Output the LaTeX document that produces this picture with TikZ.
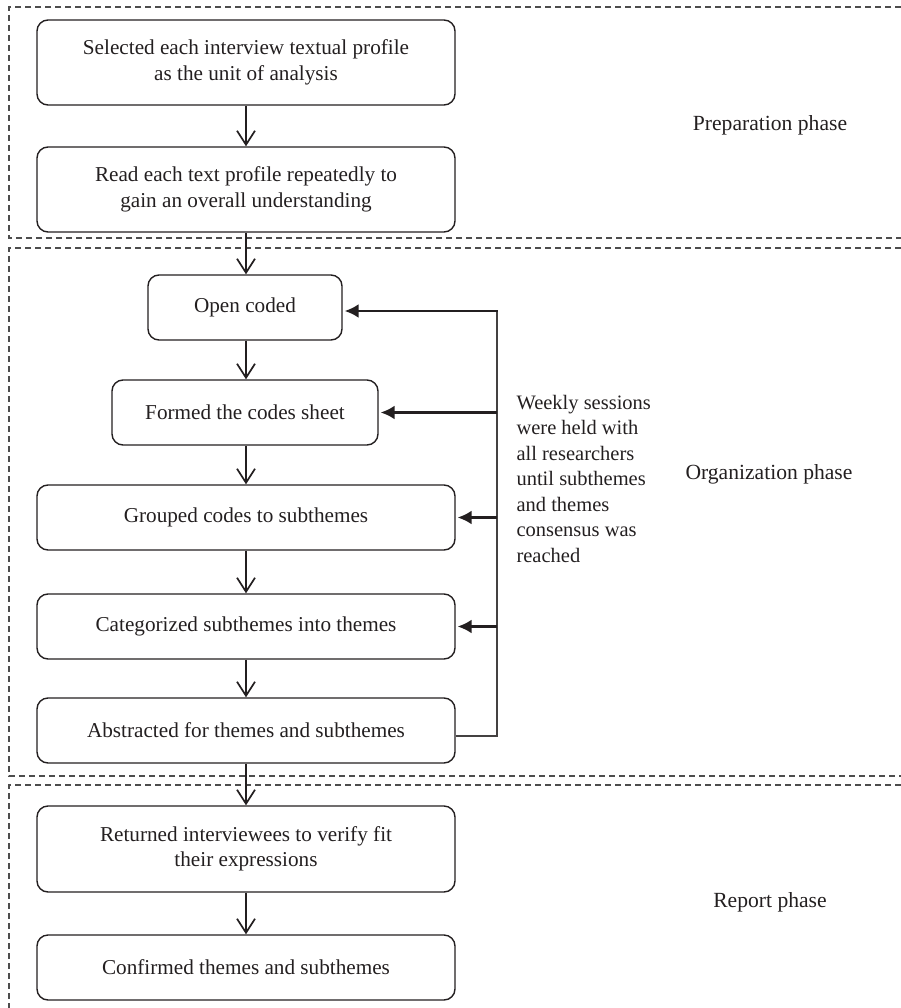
\documentclass[tikz,border=0pt]{standalone}
\usepackage{fontspec}
\setmainfont{Liberation Serif}
\usetikzlibrary{arrows.meta}
\definecolor{ink}{HTML}{231F20}
\definecolor{dashgray}{HTML}{4D4D4D}
\begin{document}
\begin{tikzpicture}[x=1pt,y=-1pt,
  every node/.style={text=ink,font=\fontsize{21.2}{25.5}\selectfont},
  stepbox/.style={draw=ink,line width=1.4pt,rounded corners=11pt,align=center,inner sep=0pt},
  wide/.style={stepbox,minimum width=418pt},
  phase/.style={font=\fontsize{21.6}{26}\selectfont},
  notetext/.style={font=\fontsize{20.5}{25.5}\selectfont,anchor=west,align=left},
  frameline/.style={draw=dashgray,line width=1.1pt,dash pattern=on 6pt off 4pt},
  flow/.style={draw=ink,line width=1.7pt,-{Straight Barb[length=14pt,width=18pt,line width=1.7pt]}},
  fbline/.style={draw=ink!85,line width=1.2pt},
  fbarrow/.style={draw=ink,line width=2.2pt,shorten >=2pt,-{Latex[length=14pt,width=14pt]}}
]
\useasboundingbox (0,0) rectangle (901,1008);
% phase frames
\draw[frameline] (901,7) -- (9,7) -- (9,238) -- (901,238);
\draw[frameline] (901,248) -- (9,248) -- (9,776) -- (901,776);
\draw[frameline] (901,785) -- (9,785) -- (9,1008);
% steps
\node[wide,minimum height=85pt] (b1) at (246,62.5) {Selected each interview textual profile\\as the unit of analysis};
\node[wide,minimum height=85pt] (b2) at (246,189.5) {Read each text profile repeatedly to\\gain an overall understanding};
\node[stepbox,minimum width=194pt,minimum height=65pt] (b3) at (245,307.5) {Open coded};
\node[stepbox,minimum width=266pt,minimum height=65pt] (b4) at (245,412.5) {Formed the codes sheet};
\node[wide,minimum height=65pt] (b5) at (246,517.5) {Grouped codes to subthemes};
\node[wide,minimum height=65pt] (b6) at (246,626.5) {Categorized subthemes into themes};
\node[wide,minimum height=65pt] (b7) at (246,730.5) {Abstracted for themes and subthemes};
\node[wide,minimum height=86pt] (b8) at (246,849) {Returned interviewees to verify fit\\their expressions};
\node[wide,minimum height=65pt] (b9) at (246,967.5) {Confirmed themes and subthemes};
% phase labels
\node[phase] (p1) at (770,125) {Preparation phase};
\node[phase] (p2) at (769,474) {Organization phase};
\node[phase] (p3) at (770,902) {Report phase};
% note
\node[notetext] (note) at (513,478.5) {Weekly sessions\\were held with\\all researchers\\until subthemes\\and themes\\consensus was\\reached};
% main flow
\draw[flow] (b1.south -| 246,0) -- (b2.north -| 246,0);
\draw[flow] (b2.south -| 246,0) -- (b3.north -| 246,0);
\draw[flow] (b3.south -| 246,0) -- (b4.north -| 246,0);
\draw[flow] (b4.south -| 246,0) -- (b5.north -| 246,0);
\draw[flow] (b5) -- (b6);
\draw[flow] (b6) -- (b7);
\draw[flow] (b7) -- (b8);
\draw[flow] (b8) -- (b9);
% feedback loop
\coordinate (fbT) at (497,311);
\coordinate (fbB) at (497,736);
\draw[fbline] (b7.east |- fbB) -- (fbB) -- (fbT);
\draw[fbarrow] ([xshift=0.6pt]fbT) -- (b3.east |- fbT);
\draw[fbarrow] (fbT |- b4.east) -- (b4.east);
\draw[fbarrow] (fbT |- b5.east) -- (b5.east);
\draw[fbarrow] (fbT |- b6.east) -- (b6.east);
\end{tikzpicture}
\end{document}
